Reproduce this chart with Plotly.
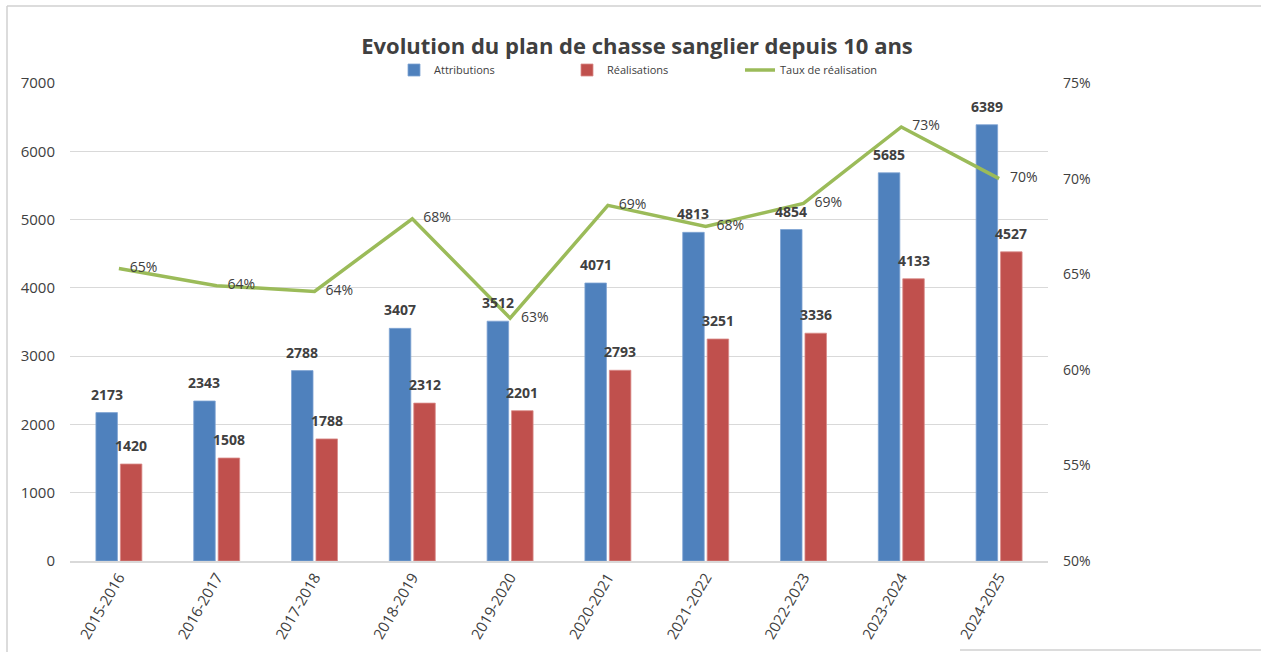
import plotly.graph_objects as go

seasons = ["2015-2016", "2016-2017", "2017-2018", "2018-2019", "2019-2020",
           "2020-2021", "2021-2022", "2022-2023", "2023-2024", "2024-2025"]
attributions = [2173, 2343, 2788, 3407, 3512, 4071, 4813, 4854, 5685, 6389]
realisations = [1420, 1508, 1788, 2312, 2201, 2793, 3251, 3336, 4133, 4527]
taux = [0.653, 0.644, 0.641, 0.679, 0.627, 0.686, 0.675, 0.687, 0.727, 0.700]

TXT = "#404040"
FONT = "Open Sans"

# screen-pixel layout of the reference (page body margin removed below)
SL, SR, ST, SB = 70, 1048, 83, 561
W, H = 1261, 652
L, T, R, B = SL, ST, W - SR, H - SB
pw, ph = W - L - R, H - T - B

BARGAP, GROUPGAP = 0.5, 0.12
slot = pw / len(seasons) * (1 - BARGAP) / 2  # px width of one bar slot
bar_shift = slot / 2

fig = go.Figure()
fig.add_trace(go.Bar(
    x=seasons, y=attributions, name="Attributions",
    marker=dict(color="#4F81BD", line=dict(color="#7FA3D3", width=0.8)),
))
fig.add_trace(go.Bar(
    x=seasons, y=realisations, name="Réalisations",
    marker=dict(color="#C0504D", line=dict(color="#D98A88", width=0.8)),
))
fig.add_trace(go.Scatter(
    x=seasons, y=taux, name="Taux de réalisation", yaxis="y2",
    mode="lines+text", line=dict(color="#9BBB59", width=3.5),
    texttemplate="   %{y:.0%}", textposition="middle right", cliponaxis=False,
    textfont=dict(family=FONT, size=14, color=TXT),
))

annotations = []
for vals, shift in ((attributions, -bar_shift), (realisations, bar_shift)):
    for s, v in zip(seasons, vals):
        annotations.append(dict(
            x=s, y=v, xref="x", yref="y", text=f"<b>{v}</b>", showarrow=False,
            xanchor="center", yanchor="bottom", xshift=shift, yshift=7,
            font=dict(family=FONT, size=14, color=TXT)))

def px(x):
    return (x - SL) / pw

def py(y):
    return (SB - y) / ph

border = dict(color="#d0d0d0", width=1.5)

fig.update_layout(
    width=W, height=H,
    margin=dict(l=L, r=R, t=T, b=B, autoexpand=False),
    paper_bgcolor="white", plot_bgcolor="white",
    font=dict(family=FONT, color=TXT),
    title=dict(text="Evolution du plan de chasse sanglier depuis 10 ans",
               x=637 / W, xref="container", xanchor="center",
               y=1 - 46 / H, yanchor="middle",
               font=dict(family=FONT, size=22, color=TXT, weight="bold")),
    barmode="group", bargap=BARGAP, bargroupgap=GROUPGAP,
    legend=dict(orientation="h", x=px(394), xanchor="left",
                y=py(70), yanchor="middle",
                font=dict(family=FONT, size=11, color=TXT),
                entrywidth=128, bgcolor="rgba(0,0,0,0)"),
    xaxis=dict(tickangle=-60, showline=True, linecolor="#d9d9d9", linewidth=1.5,
               tickfont=dict(family=FONT, size=15, color=TXT), ticks="",
               automargin=False),
    yaxis=dict(range=[0, 7000], dtick=1000, showgrid=True, gridcolor="#d9d9d9",
               zeroline=False, tickfont=dict(family=FONT, size=15, color=TXT),
               ticklabelstandoff=14, automargin=False),
    yaxis2=dict(range=[0.5, 0.75], dtick=0.05, tickformat=".0%", overlaying="y",
                side="right", showgrid=False, zeroline=False,
                tickfont=dict(family=FONT, size=14, color=TXT),
                ticklabelstandoff=14, automargin=False),
    annotations=annotations,
    shapes=[
        dict(type="line", xref="paper", yref="paper", x0=px(7), x1=px(1261),
             y0=py(6), y1=py(6), line=border, layer="below"),
        dict(type="line", xref="paper", yref="paper", x0=px(7), x1=px(7),
             y0=py(6), y1=py(652), line=border, layer="below"),
        dict(type="line", xref="paper", yref="paper", x0=px(960), x1=px(1261),
             y0=py(650), y1=py(650), line=border, layer="below"),
    ],
)

fig.write_html("out.html",
               config={"displayModeBar": False},
               post_script="document.body.style.margin='0';"
                           "document.body.style.overflow='hidden';")
